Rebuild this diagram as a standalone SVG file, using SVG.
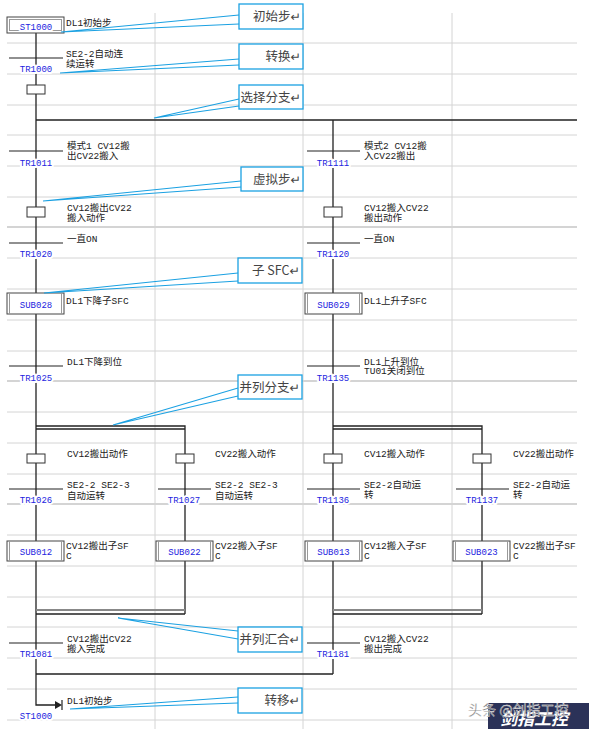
<svg xmlns="http://www.w3.org/2000/svg" width="589" height="729" viewBox="0 0 589 729">
<style>
.grid{stroke:#d4d4d4;stroke-width:1;fill:none}
.gridb{stroke:#d4d4d4;stroke-width:2;fill:none}
.flow{stroke:#222;stroke-width:1.3;fill:none}
.tr{stroke:#222;stroke-width:1.2}
.step{fill:#fff;stroke:#333;stroke-width:1}
.box{fill:#fff;stroke:#444;stroke-width:1}
.boxin{fill:none;stroke:#999;stroke-width:1}
.lbl{font-family:"Liberation Mono","Noto Sans CJK SC",monospace;font-size:9px;fill:#2323e0;text-anchor:middle;stroke:#fff;stroke-width:4;paint-order:stroke;stroke-linejoin:round}
.t{font-family:"Liberation Mono","Noto Sans CJK SC",monospace;font-size:9.5px;fill:#222}
.co{fill:#fff;stroke:#1ba1e2;stroke-width:1.3}
.cp{fill:none;stroke:#1ba1e2;stroke-width:1.1}
.ct{font-family:"Noto Sans CJK SC","DejaVu Sans",sans-serif;font-size:12.5px;fill:#444;text-anchor:end}
.wm{font-family:"Noto Sans CJK SC",sans-serif}
</style>
<rect width="589" height="729" fill="#fff"/>
<g id="grid">
<path class="grid" d="M155 13V729M303 13V729M452 13V729"/>
<path class="grid" d="M7 43H577M7 74H577M7 105H577M7 135H577M7 166H577M7 197H577M7 258H577M7 289H577M7 320H577M7 351H577M7 412H577M7 443H577M7 474H577M7 535H577M7 566H577M7 597H577M7 627H577M7 658H577M7 689H577M7 720H577"/>
<path class="gridb" d="M7 227H577M7 381H577M7 504H577"/>
</g>
<g id="connectors">
<path class="flow" d="M36 33V705H60"/>
<path class="flow" d="M36 120H577M333 120V674M36 674H333"/>
<path class="flow" d="M36 426H185V614M36 429H185" stroke-width="1"/>
<path class="flow" d="M333 426H482V614M333 429H482" stroke-width="1"/>
<path d="M36 610H185M333 610H482" stroke="#888" stroke-width="2.2"/>
<path class="flow" d="M36 614H185M333 614H482" stroke-width="1"/>
<path d="M55 701L62 705L55 709Z" fill="#222"/>
<path d="M62 700V710" stroke="#222" stroke-width="1.2"/>
</g>
<g id="ST1000">
<rect class="box" x="7" y="17" width="57" height="16"/>
<rect class="boxin" x="9.5" y="19.5" width="52" height="11"/>
<text class="lbl" x="36" y="29.5" stroke="none">ST1000</text>
<text class="t" x="66" y="26">DL1初始步</text>
</g>
<g id="TR1000">
<line class="tr" x1="9" y1="58" x2="63" y2="58"/>
<text class="lbl" x="36" y="72">TR1000</text>
<text class="t" x="66" y="56.5">SE2-2自动连</text>
<text class="t" x="66" y="66.5">续运转</text>
</g>
<g id="step-a"><rect class="step" x="27" y="85" width="18" height="9"/></g>
<g id="TR1011">
<line class="tr" x1="9" y1="151" x2="63" y2="151"/>
<text class="lbl" x="36" y="165.5">TR1011</text>
<text class="t" x="67" y="148.5">模式1 CV12搬</text>
<text class="t" x="67" y="158.5">出CV22搬入</text>
</g>
<g id="step-b">
<rect class="step" x="27" y="207" width="18" height="10"/>
<text class="t" x="67" y="210.5">CV12搬出CV22</text>
<text class="t" x="67" y="220.5">搬入动作</text>
</g>
<g id="TR1020">
<line class="tr" x1="9" y1="243" x2="63" y2="243"/>
<text class="lbl" x="36" y="256.5">TR1020</text>
<text class="t" x="67" y="241.5">一直ON</text>
</g>
<g id="SUB028">
<rect class="box" x="7" y="293" width="57" height="21"/>
<path class="boxin" d="M9.5 293V314M61.5 293V314"/>
<text class="lbl" x="36" y="307.5">SUB028</text>
<text class="t" x="66" y="303.5">DL1下降子SFC</text>
</g>
<g id="TR1025">
<line class="tr" x1="9" y1="366" x2="63" y2="366"/>
<text class="lbl" x="36" y="380.5">TR1025</text>
<text class="t" x="67" y="364.5">DL1下降到位</text>
</g>
<g id="step-c">
<rect class="step" x="27" y="454" width="18" height="9"/>
<text class="t" x="67" y="456.5">CV12搬出动作</text>
</g>
<g id="step-d">
<rect class="step" x="176" y="454" width="18" height="9"/>
<text class="t" x="215" y="456.5">CV22搬入动作</text>
</g>
<g id="TR1026">
<line class="tr" x1="9" y1="489" x2="63" y2="489"/>
<text class="lbl" x="36" y="502.5">TR1026</text>
<text class="t" x="67" y="487.5">SE2-2 SE2-3</text>
<text class="t" x="67" y="499" font-size="10.5">自动运转</text>
</g>
<g id="TR1027">
<line class="tr" x1="158" y1="489" x2="211" y2="489"/>
<text class="lbl" x="184" y="502.5">TR1027</text>
<text class="t" x="215" y="487.5">SE2-2 SE2-3</text>
<text class="t" x="215" y="499" font-size="10.5">自动运转</text>
</g>
<g id="SUB012">
<rect class="box" x="7" y="541" width="57" height="20"/>
<path class="boxin" d="M9.5 541V561M61.5 541V561"/>
<text class="lbl" x="36" y="554.5">SUB012</text>
<text class="t" x="66" y="548.5">CV12搬出子SF</text>
<text class="t" x="66" y="558.5">C</text>
</g>
<g id="SUB022">
<rect class="box" x="156" y="541" width="57" height="20"/>
<path class="boxin" d="M158.5 541V561M210.5 541V561"/>
<text class="lbl" x="184.5" y="554.5">SUB022</text>
<text class="t" x="215" y="548.5">CV22搬入子SF</text>
<text class="t" x="215" y="558.5">C</text>
</g>
<g id="TR1081">
<line class="tr" x1="9" y1="643" x2="63" y2="643"/>
<text class="lbl" x="36" y="656.5">TR1081</text>
<text class="t" x="67" y="641.5">CV12搬出CV22</text>
<text class="t" x="67" y="651.5">搬入完成</text>
</g>
<g id="ST1000-jump">
<text class="t" x="67" y="703.5">DL1初始步</text>
<text class="lbl" x="36" y="718.5">ST1000</text>
</g>
<g id="TR1111">
<line class="tr" x1="307" y1="151" x2="360" y2="151"/>
<text class="lbl" x="333" y="165.5">TR1111</text>
<text class="t" x="364" y="148.5">模式2 CV12搬</text>
<text class="t" x="364" y="158.5">入CV22搬出</text>
</g>
<g id="step-e">
<rect class="step" x="324" y="207" width="18" height="10"/>
<text class="t" x="364" y="210.5">CV12搬入CV22</text>
<text class="t" x="364" y="220.5">搬出动作</text>
</g>
<g id="TR1120">
<line class="tr" x1="307" y1="243" x2="360" y2="243"/>
<text class="lbl" x="333" y="256.5">TR1120</text>
<text class="t" x="364" y="241.5">一直ON</text>
</g>
<g id="SUB029">
<rect class="box" x="305" y="293" width="57" height="21"/>
<path class="boxin" d="M307.5 293V314M359.5 293V314"/>
<text class="lbl" x="333.5" y="307.5">SUB029</text>
<text class="t" x="364" y="303.5">DL1上升子SFC</text>
</g>
<g id="TR1135">
<line class="tr" x1="307" y1="366" x2="360" y2="366"/>
<text class="lbl" x="333" y="380.5">TR1135</text>
<text class="t" x="364" y="364.5">DL1上升到位</text>
<text class="t" x="364" y="374">TU01关闭到位</text>
</g>
<g id="step-f">
<rect class="step" x="324" y="454" width="18" height="9"/>
<text class="t" x="364" y="456.5">CV12搬入动作</text>
</g>
<g id="step-g">
<rect class="step" x="473" y="454" width="18" height="9"/>
<text class="t" x="513" y="456.5">CV22搬出动作</text>
</g>
<g id="TR1136">
<line class="tr" x1="307" y1="489" x2="360" y2="489"/>
<text class="lbl" x="333" y="502.5">TR1136</text>
<text class="t" x="364" y="487.5">SE2-2自动运</text>
<text class="t" x="364" y="498">转</text>
</g>
<g id="TR1137">
<line class="tr" x1="456" y1="489" x2="509" y2="489"/>
<text class="lbl" x="482" y="502.5">TR1137</text>
<text class="t" x="513" y="487.5">SE2-2自动运</text>
<text class="t" x="513" y="498">转</text>
</g>
<g id="SUB013">
<rect class="box" x="305" y="541" width="57" height="20"/>
<path class="boxin" d="M307.5 541V561M359.5 541V561"/>
<text class="lbl" x="333.5" y="554.5">SUB013</text>
<text class="t" x="364" y="548.5">CV12搬入子SF</text>
<text class="t" x="364" y="558.5">C</text>
</g>
<g id="SUB023">
<rect class="box" x="453" y="541" width="57" height="20"/>
<path class="boxin" d="M455.5 541V561M507.5 541V561"/>
<text class="lbl" x="481.5" y="554.5">SUB023</text>
<text class="t" x="513" y="548.5">CV22搬出子SF</text>
<text class="t" x="513" y="558.5">C</text>
</g>
<g id="TR1181">
<line class="tr" x1="307" y1="643" x2="360" y2="643"/>
<text class="lbl" x="333" y="656.5">TR1181</text>
<text class="t" x="364" y="641.5">CV12搬入CV22</text>
<text class="t" x="364" y="651.5">搬出完成</text>
</g>
<g id="callout-1">
<polyline class="cp" points="239,15 61,32 239,24"/>
<rect class="co" x="239" y="4" width="64" height="25"/>
<text class="ct" x="301" y="21">初始步↵</text>
</g>
<g id="callout-2">
<polyline class="cp" points="239,59 60,73 239,65"/>
<rect class="co" x="239" y="44" width="64" height="25"/>
<text class="ct" x="301" y="61">转换↵</text>
</g>
<g id="callout-3">
<polyline class="cp" points="239,99 154,118 239,106"/>
<rect class="co" x="239" y="85" width="64" height="24"/>
<text class="ct" x="301" y="101.5">选择分支↵</text>
</g>
<g id="callout-4">
<polyline class="cp" points="241,181 43,201 241,187"/>
<rect class="co" x="241" y="167" width="62" height="24"/>
<text class="ct" x="301" y="183.5">虚拟步↵</text>
</g>
<g id="callout-5">
<polyline class="cp" points="238,273 44,293 238,281"/>
<rect class="co" x="238" y="258" width="64" height="25"/>
<text class="ct" x="300" y="275">子 SFC↵</text>
</g>
<g id="callout-6">
<polyline class="cp" points="238,388 113,425 238,396"/>
<rect class="co" x="238" y="375" width="64" height="24"/>
<text class="ct" x="300" y="391.5">并列分支↵</text>
</g>
<g id="callout-7">
<polyline class="cp" points="238,631 118,618 238,639"/>
<rect class="co" x="238" y="627" width="64" height="25"/>
<text class="ct" x="300" y="644">并列汇合↵</text>
</g>
<g id="callout-8">
<polyline class="cp" points="238,697 70,709 238,703"/>
<rect class="co" x="238" y="688" width="64" height="25"/>
<text class="ct" x="300" y="705">转移↵</text>
</g>
<g id="watermark">
<rect x="488" y="703" width="101" height="26" fill="#2b3258"/>
<text class="wm" x="500" y="725" font-size="17" font-style="italic" font-weight="bold" fill="#fff">剑指工控</text>
<text class="wm" x="468" y="715" font-size="14" fill="#777" stroke="#fff" stroke-width="0.3">头条 @剑指工控</text>
</g>
</svg>
